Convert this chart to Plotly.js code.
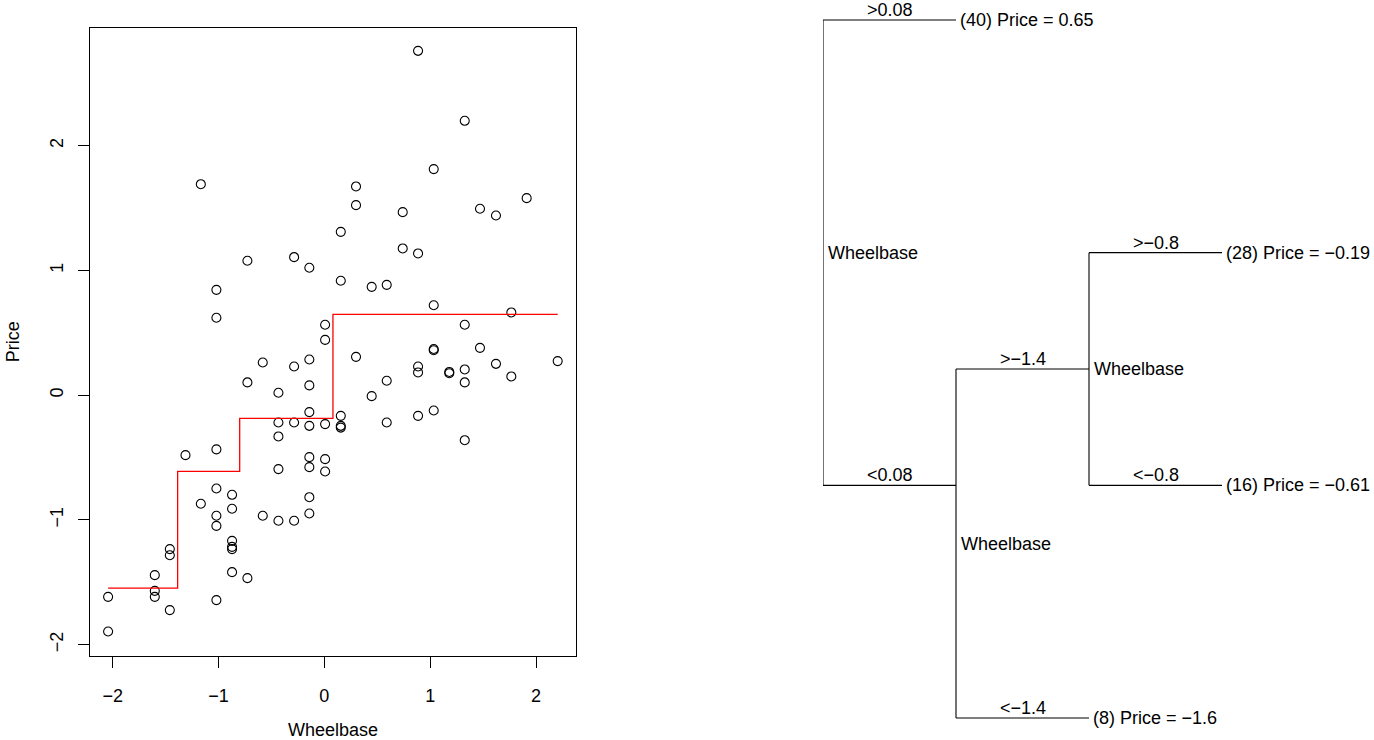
<!DOCTYPE html>
<html>
<head>
<meta charset="utf-8">
<script src="https://cdn.plot.ly/plotly-3.0.1.min.js"></script>
<style>
  html, body { margin: 0; padding: 0; background: #fff; }
  #chart { width: 1374px; height: 740px; }
</style>
</head>
<body>
<div id="chart"></div>
<script>
// ---- Scatter data (standardized Wheelbase vs Price) ----
const wheelbase = [
  -2.043, -2.043, -1.602, -1.602, -1.602, -1.46, -1.46, -1.46,
  -1.312, -1.167, -1.167, -1.02, -1.02, -1.02, -1.02, -1.02, -1.02, -1.02,
  -0.872, -0.872, -0.872, -0.872, -0.872, -0.872,
  -0.727, -0.727, -0.727, -0.582, -0.582, -0.434, -0.434, -0.434, -0.434, -0.434,
  -0.286, -0.286, -0.286, -0.286, -0.142, -0.142, -0.142, -0.142, -0.142, -0.142,
  -0.142, -0.142, -0.142, 0.007, 0.007, 0.007, 0.007, 0.007,
  0.155, 0.155, 0.155, 0.155, 0.155, 0.299, 0.299, 0.299, 0.447, 0.447,
  0.589, 0.589, 0.589, 0.740, 0.740, 0.885, 0.885, 0.885, 0.885, 0.885,
  1.033, 1.033, 1.033, 1.033, 1.033, 1.180, 1.180, 1.326, 1.326, 1.326, 1.326, 1.326,
  1.470, 1.470, 1.621, 1.621, 1.766, 1.766, 1.911, 2.204
];
const price = [
  -1.617, -1.895, -1.443, -1.569, -1.617, -1.234, -1.283, -1.723,
  -0.481, 1.691, -0.871, 0.844, 0.62, -0.435, -0.748, -0.967, -1.048, -1.643,
  -0.799, -0.911, -1.168, -1.216, -1.234, -1.419,
  1.077, 0.102, -1.467, 0.262, -0.967, 0.019, -0.219, -0.331, -0.593, -1.007,
  1.106, 0.230, -0.219, -1.007, 1.021, 0.286, 0.078, -0.136, -0.246, -0.497,
  -0.577, -0.818, -0.949, 0.564, 0.443, -0.232, -0.513, -0.612,
  1.309, 0.917, -0.166, -0.246, -0.26, 1.673, 1.523, 0.307, 0.868, -0.008,
  0.884, 0.115, -0.219, 1.467, 1.176, 2.76, 1.136, 0.230, 0.182, -0.166,
  1.812, 0.721, 0.37, 0.36, -0.123, 0.186, 0.176, 2.199, 0.564, 0.206, 0.102, -0.361,
  1.494, 0.379, 1.44, 0.251, 0.663, 0.150, 1.579, 0.273
];

// ---- Regression tree ----
const splitPoints = [-1.386, -0.8, 0.081];          // Wheelbase cut points (ascending)
const splitVar = "Wheelbase";
const splitLabels = ["0.08", "−1.4", "−0.8"];        // root, second, third node
const leafCounts = [40, 28, 16, 8];                  // top to bottom in tree
const leafPrices = ["0.65", "−0.19", "−0.61", "−1.6"];

const xTicks = [-2, -1, 0, 1, 2];
const yTicks = [-2, -1, 0, 1, 2];

// Step function: region means of the fitted tree
const edges = [-Infinity].concat(splitPoints, [Infinity]);
const stepX = [], stepY = [];
const xmin = Math.min(...wheelbase), xmax = Math.max(...wheelbase);
for (let r = 0; r < edges.length - 1; r++) {
  let s = 0, n = 0;
  wheelbase.forEach((v, i) => { if (v > edges[r] && v <= edges[r + 1]) { s += price[i]; n++; } });
  stepX.push(r === 0 ? xmin : edges[r]);
  stepY.push(s / n);
}
stepX.push(xmax); stepY.push(stepY[stepY.length - 1]);

// Tree structure (hi = ">" branch drawn above, lo = "<" branch drawn below)
const tree = { split: 0,
  hi: { leaf: 0 },
  lo: { split: 1,
        hi: { split: 2, hi: { leaf: 1 }, lo: { leaf: 2 } },
        lo: { leaf: 3 } } };

const segX = [], segY = [];
const ann = [];
const FONT = "Liberation Sans, Arial, Helvetica, sans-serif";
const FS = 18;
function txt(x, y, text, xanchor, yanchor, xshift, yshift) {
  ann.push({ xref: "x2", yref: "y2", x: x, y: y, text: text, showarrow: false,
    xanchor: xanchor, yanchor: yanchor, xshift: xshift, yshift: yshift,
    font: { family: FONT, size: FS, color: "#000" }, borderpad: 0 });
}
// returns list of leaf positions in subtree; node position = mean of them
function layoutNode(node, depth) {
  if (node.leaf !== undefined) {
    node.y = leafCounts.length - 1 - node.leaf;
    txt(depth, node.y, "(" + leafCounts[node.leaf] + ") Price = " + leafPrices[node.leaf],
        "left", "middle", 3, 0);
    return [node.y];
  }
  const lh = layoutNode(node.hi, depth + 1);
  const ll = layoutNode(node.lo, depth + 1);
  const all = lh.concat(ll);
  node.y = all.reduce((a, b) => a + b, 0) / all.length;
  const yh = node.hi.y, yl = node.lo.y;
  segX.push(depth, depth, null, depth, depth + 1, null, depth, depth + 1, null);
  segY.push(yh, yl, null, yh, yh, null, yl, yl, null);
  txt(depth + 0.5, yh, ">" + splitLabels[node.split], "center", "bottom", 0, -1);
  txt(depth + 0.5, yl, "<" + splitLabels[node.split], "center", "bottom", 0, -1);
  txt(depth, (yh + yl) / 2, splitVar, "left", "middle", 4, 0);
  return all;
}
layoutNode(tree, 0);

const W = 1374, H = 740;

const traces = [
  { type: "scatter", mode: "markers", x: wheelbase, y: price, xaxis: "x", yaxis: "y",
    marker: { symbol: "circle-open", size: 9, color: "#000", line: { width: 1.1, color: "#000" } },
    hoverinfo: "x+y", showlegend: false },
  { type: "scatter", mode: "lines", x: stepX, y: stepY, xaxis: "x", yaxis: "y",
    line: { shape: "hv", color: "#ff0000", width: 1.3 }, showlegend: false },
  { type: "scatter", mode: "lines", x: segX, y: segY, xaxis: "x2", yaxis: "y2",
    line: { color: "#000", width: 1.1 }, hoverinfo: "skip", showlegend: false }
];

// pixel geometry -> paper domains
const px = v => v / W, py = v => 1 - v / H;
const depthPx = 133, leafPx = 233.3, rootX = 823, bottomLeafY = 718;

const layout = {
  width: W, height: H,
  margin: { l: 0, r: 0, t: 0, b: 0 },
  paper_bgcolor: "#fff", plot_bgcolor: "#fff",
  font: { family: FONT, size: FS, color: "#000" },
  showlegend: false,
  annotations: ann,
  xaxis: {
    domain: [px(90), px(576)], range: [-2.214, 2.377],
    tickvals: xTicks, ticktext: xTicks.map(v => String(v).replace("-", "−")),
    ticks: "outside", ticklen: 11, tickwidth: 1, tickcolor: "#000",
    showline: true, mirror: true, linecolor: "#000", linewidth: 1,
    showgrid: false, zeroline: false, ticklabelstandoff: 13,
    tickfont: { family: FONT, size: FS, color: "#000" },
    title: { text: "Wheelbase", font: { family: FONT, size: FS, color: "#000" }, standoff: 23 }
  },
  yaxis: {
    domain: [py(655.5), py(28)], range: [-2.087, 2.943],
    tickvals: yTicks, ticktext: yTicks.map(v => String(v).replace("-", "−")),
    tickangle: -90,
    ticks: "outside", ticklen: 11, tickwidth: 1, tickcolor: "#000",
    showline: true, mirror: true, linecolor: "#000", linewidth: 1,
    showgrid: false, zeroline: false, ticklabelstandoff: 8,
    tickfont: { family: FONT, size: FS, color: "#000" },
    title: { text: "Price", font: { family: FONT, size: FS, color: "#000" }, standoff: 22 }
  },
  xaxis2: {
    domain: [px(rootX), 1], range: [0, (W - rootX) / depthPx], anchor: "y2",
    visible: false, fixedrange: true
  },
  yaxis2: {
    domain: [0, 1], anchor: "x2",
    range: [-(H - bottomLeafY) / leafPx, 3 + 20 / leafPx],
    visible: false, fixedrange: true
  }
};

Plotly.newPlot("chart", traces, layout, { displayModeBar: false, staticPlot: true });
</script>
</body>
</html>
